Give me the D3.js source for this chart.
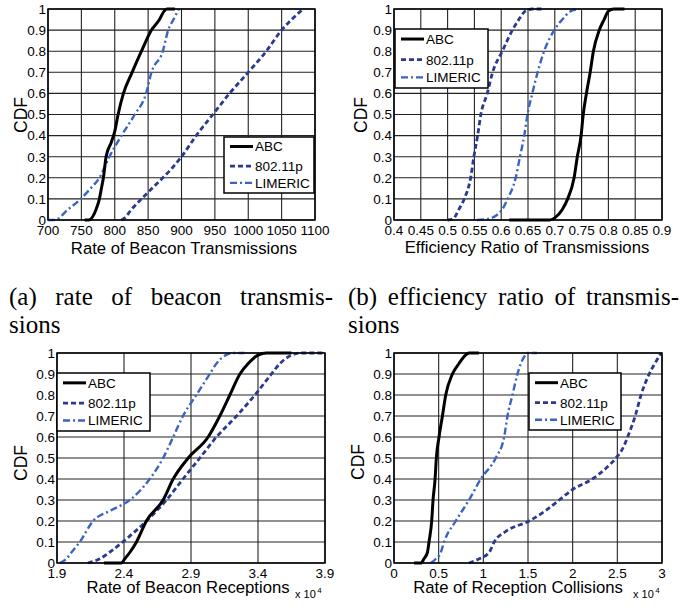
<!DOCTYPE html>
<html>
  <head>
    <meta charset="UTF-8">
    <title>CDF panels</title>
    <style>
    body { margin: 0; background: #fff; }
    svg { display: block; }
    .tick-label { font: 13.5px "Liberation Sans", Arial, sans-serif; fill: #000; }
    .axis-title { font: 16.7px "Liberation Sans", Arial, sans-serif; fill: #000; }
    .cdf-label { font: 17.5px "Liberation Sans", Arial, sans-serif; fill: #000; }
    .legend text { font: 13.5px "Liberation Sans", Arial, sans-serif; fill: #000; }
    .caption { font: 25px "Liberation Serif", "Times New Roman", serif; fill: #000; }
    .grid { stroke: #222; stroke-width: 1.1px; }
    .frame { fill: none; stroke: #000; stroke-width: 1.5px; }
    </style>
  </head>
  <body>
    <svg width="692" height="608"></svg>
    <script src="https://d3js.org/d3.v7.min.js"></script>
    <script>
// series names, shared by all four panels
var seriesNames = ["ABC", "802.11p", "LIMERIC"];

// (a) rate of beacon transmissions: [value, CDF]
var txABC = [[755,0],[761,0],[772,0.05],[777,0.1],[780,0.15],[783,0.2],[787,0.3],[795,0.37],[800,0.42],[805,0.5],[813,0.6],[826,0.7],[840,0.8],[855,0.9],[867,0.95],[874,0.99],[878,1],[890,1]];
var tx802 = [[810,0],[815,0.01],[825,0.05],[840,0.1],[856,0.15],[872,0.2],[887,0.25],[900,0.3],[922,0.4],[947,0.5],[972,0.6],[1000,0.7],[1027,0.8],[1050,0.9],[1065,0.95],[1082,1]];
var txLIM = [[700,0],[710,0],[730,0.05],[749,0.1],[764,0.15],[777,0.2],[792,0.3],[810,0.4],[830,0.5],[847,0.6],[855,0.7],[872,0.8],[880,0.9],[888,0.95],[896,1]];

// (b) efficiency ratio of transmissions
var effABC = [[0.615,0],[0.69,0],[0.70,0.01],[0.714,0.05],[0.724,0.1],[0.736,0.2],[0.742,0.3],[0.749,0.4],[0.753,0.5],[0.759,0.6],[0.766,0.7],[0.772,0.8],[0.783,0.9],[0.792,0.95],[0.80,0.99],[0.81,1],[0.83,1]];
var eff802 = [[0.50,0],[0.51,0.005],[0.521,0.05],[0.531,0.1],[0.543,0.2],[0.549,0.3],[0.556,0.4],[0.562,0.5],[0.574,0.6],[0.584,0.7],[0.602,0.8],[0.621,0.9],[0.633,0.95],[0.645,0.99],[0.658,1],[0.68,1]];
var effLIM = [[0.555,0],[0.575,0.005],[0.59,0.02],[0.602,0.05],[0.612,0.1],[0.627,0.2],[0.635,0.3],[0.643,0.4],[0.649,0.5],[0.658,0.6],[0.668,0.7],[0.68,0.8],[0.699,0.9],[0.714,0.95],[0.73,0.99],[0.746,1]];

// (c) rate of beacon receptions (x 10^4)
var rxABC = [[2.25,0],[2.38,0],[2.406,0.02],[2.443,0.05],[2.493,0.1],[2.567,0.2],[2.692,0.3],[2.767,0.4],[2.879,0.5],[3.028,0.6],[3.115,0.7],[3.19,0.8],[3.265,0.9],[3.327,0.95],[3.40,0.99],[3.464,1],[3.65,1]];
var rx802 = [[2.13,0],[2.22,0.02],[2.29,0.05],[2.39,0.1],[2.567,0.2],[2.717,0.3],[2.84,0.4],[2.966,0.5],[3.09,0.6],[3.24,0.7],[3.377,0.8],[3.5,0.9],[3.564,0.95],[3.65,0.99],[3.713,1],[3.9,1]];
var rxLIM = [[1.92,0],[1.97,0.02],[2.007,0.05],[2.07,0.1],[2.169,0.2],[2.30,0.25],[2.443,0.3],[2.592,0.4],[2.692,0.5],[2.767,0.6],[2.84,0.7],[2.94,0.8],[3.04,0.9],[3.09,0.95],[3.16,0.99],[3.215,1],[3.3,1]];

// (d) rate of reception collisions (x 10^4)
var colABC = [[0.224,0],[0.30,0],[0.336,0.02],[0.374,0.05],[0.392,0.1],[0.422,0.2],[0.437,0.3],[0.46,0.4],[0.474,0.5],[0.504,0.6],[0.542,0.7],[0.579,0.8],[0.654,0.9],[0.728,0.95],[0.80,0.99],[0.84,1],[0.95,1]];
var col802 = [[0.84,0],[0.953,0.02],[1.065,0.05],[1.121,0.1],[1.25,0.15],[1.513,0.2],[1.7,0.25],[1.849,0.3],[2.0,0.35],[2.22,0.4],[2.37,0.45],[2.484,0.5],[2.566,0.55],[2.615,0.6],[2.70,0.7],[2.765,0.8],[2.857,0.9],[2.92,0.95],[2.99,1]];
var colLIM = [[0.41,0],[0.47,0.02],[0.523,0.05],[0.56,0.1],[0.691,0.2],[0.84,0.3],[0.971,0.4],[1.139,0.5],[1.233,0.6],[1.27,0.7],[1.326,0.8],[1.382,0.9],[1.42,0.95],[1.47,0.99],[1.494,1],[1.6,1]];

// ticks
var yTicks = [0,0.1,0.2,0.3,0.4,0.5,0.6,0.7,0.8,0.9,1];
var yTickLabels = ["0","0.1","0.2","0.3","0.4","0.5","0.6","0.7","0.8","0.9","1"];
var txTicks = [700,750,800,850,900,950,1000,1050,1100];
var effTicks = [0.4,0.45,0.5,0.55,0.6,0.65,0.7,0.75,0.8,0.85,0.9];
var effTickLabels = ["0.4","0.45","0.5","0.55","0.6","0.65","0.7","0.75","0.8","0.85","0.9"];
var rxTicks = [1.9,2.4,2.9,3.4,3.9];
var colTicks = [0,0.5,1,1.5,2,2.5,3];

var captionA = ["(a)", "rate", "of", "beacon", "transmis-"];
var captionB = ["(b)", "efficiency", "ratio", "of", "transmis-"];
var captionEnd = "sions";

var styles = [
  {color: "#000", dash: null, width: 3},
  {color: "#2b3990", dash: "5,3", width: 2.8},
  {color: "#3b63c4", dash: "7,3,2,3", width: 2.4}
];

var panels = [
  {left: 48, right: 315, top: 9, bottom: 220, domain: [700, 1100], ticks: txTicks, labels: txTicks.map(String),
   series: [txABC, tx802, txLIM], title: "Rate of Beacon Transmissions", titleX: 184, titleY: 254,
   cdfX: 27, cdfY: 115, legend: {x: 224, y: 137, w: 90, h: 56}},
  {left: 394, right: 662, top: 9, bottom: 220, domain: [0.4, 0.9], ticks: effTicks, labels: effTickLabels,
   series: [effABC, eff802, effLIM], title: "Efficiency Ratio of Transmissions", titleX: 527, titleY: 253,
   cdfX: 367, cdfY: 115, legend: {x: 395, y: 29, w: 93, h: 59}},
  {left: 57, right: 325, top: 353, bottom: 563, domain: [1.9, 3.9], ticks: rxTicks, labels: rxTicks.map(String),
   series: [rxABC, rx802, rxLIM], title: "Rate of Beacon Receptions", titleX: 188, titleY: 593,
   cdfX: 27, cdfY: 463, legend: {x: 57, y: 373, w: 93, h: 58}, expX: 295},
  {left: 394, right: 662, top: 353, bottom: 563, domain: [0, 3], ticks: colTicks, labels: colTicks.map(String),
   series: [colABC, col802, colLIM], title: "Rate of Reception Collisions", titleX: 518, titleY: 593,
   cdfX: 364, cdfY: 462, legend: {x: 529, y: 373, w: 92, h: 57}, expX: 633}
];

var svg = d3.select("svg");

panels.forEach(function(p, i) {
  var x = d3.scaleLinear().domain(p.domain).range([p.left, p.right]);
  var y = d3.scaleLinear().domain([0, 1]).range([p.bottom, p.top]);
  var g = svg.append("g");

  // grid
  g.selectAll(".gx").data(p.ticks).enter().append("line")
      .attr("class", "grid")
      .attr("x1", d => x(d)).attr("x2", d => x(d))
      .attr("y1", p.top).attr("y2", p.bottom);
  g.selectAll(".gy").data(yTicks).enter().append("line")
      .attr("class", "grid")
      .attr("x1", p.left).attr("x2", p.right)
      .attr("y1", d => y(d)).attr("y2", d => y(d));

  // clip
  svg.append("clipPath").attr("id", "clip" + i).append("rect")
      .attr("x", p.left).attr("y", p.top - 2)
      .attr("width", p.right - p.left).attr("height", p.bottom - p.top + 4);

  var line = d3.line()
      .x(d => x(d[0]))
      .y(d => y(d[1]))
      .curve(d3.curveMonotoneX);

  // draw LIMERIC first, then 802.11p, ABC on top
  [2, 1, 0].forEach(function(k) {
    g.append("path")
        .attr("clip-path", "url(#clip" + i + ")")
        .attr("d", line(p.series[k]))
        .attr("fill", "none")
        .attr("stroke", styles[k].color)
        .attr("stroke-width", styles[k].width)
        .attr("stroke-dasharray", styles[k].dash);
  });

  g.append("rect").attr("class", "frame")
      .attr("x", p.left).attr("y", p.top)
      .attr("width", p.right - p.left).attr("height", p.bottom - p.top);

  // tick labels
  g.selectAll(".yl").data(yTicks).enter().append("text")
      .attr("class", "tick-label")
      .attr("x", p.left - 2).attr("y", d => y(d))
      .attr("dy", "0.36em")
      .attr("text-anchor", "end")
      .text((d, j) => yTickLabels[j]);
  g.selectAll(".xl").data(p.ticks).enter().append("text")
      .attr("class", "tick-label")
      .attr("x", d => x(d)).attr("y", p.bottom + 15)
      .attr("text-anchor", "middle")
      .text((d, j) => p.labels[j]);

  g.append("text").attr("class", "axis-title")
      .attr("x", p.titleX).attr("y", p.titleY)
      .attr("text-anchor", "middle")
      .text(p.title);

  g.append("text").attr("class", "cdf-label")
      .attr("transform", "translate(" + p.cdfX + "," + p.cdfY + ") rotate(-90)")
      .attr("text-anchor", "middle")
      .text("CDF");

  if (p.expX) {
    var e = g.append("text")
        .attr("x", p.expX).attr("y", p.bottom + 35)
        .style("font", "11px 'Liberation Sans', Arial, sans-serif");
    e.append("tspan").text("x 10");
    e.append("tspan").attr("dy", -5).attr("dx", 1.5).style("font-size", "8px").text("4");
  }

  // legend
  var L = p.legend;
  var lg = g.append("g").attr("class", "legend");
  lg.append("rect")
      .attr("x", L.x).attr("y", L.y).attr("width", L.w).attr("height", L.h)
      .attr("fill", "#fff").attr("stroke", "#000").attr("stroke-width", 1.5);
  var rows = [L.h * 0.17, L.h * 0.52, L.h * 0.82];
  seriesNames.forEach(function(name, k) {
    var ry = L.y + rows[k];
    lg.append("line")
        .attr("x1", L.x + 6).attr("x2", L.x + 29)
        .attr("y1", ry).attr("y2", ry)
        .attr("stroke", styles[k].color)
        .attr("stroke-width", styles[k].width)
        .attr("stroke-dasharray", styles[k].dash);
    lg.append("text")
        .attr("x", L.x + 31).attr("y", ry)
        .attr("dy", "0.36em")
        .text(name);
  });
});

// captions, justified like the LaTeX text
function justify(words, x0, x1, yb) {
  var t = words.map(w => svg.append("text").attr("class", "caption").attr("y", yb).text(w));
  var widths = t.map(s => s.node().getComputedTextLength());
  var gap = (x1 - x0 - d3.sum(widths)) / (words.length - 1);
  var cx = x0;
  t.forEach(function(s, k) {
    s.attr("x", cx);
    cx += widths[k] + gap;
  });
}
justify(captionA, 9, 333, 305);
justify(captionB, 348, 679, 305);
svg.append("text").attr("class", "caption").attr("x", 9).attr("y", 333).text(captionEnd);
svg.append("text").attr("class", "caption").attr("x", 348).attr("y", 333).text(captionEnd);
    </script>
  </body>
</html>
